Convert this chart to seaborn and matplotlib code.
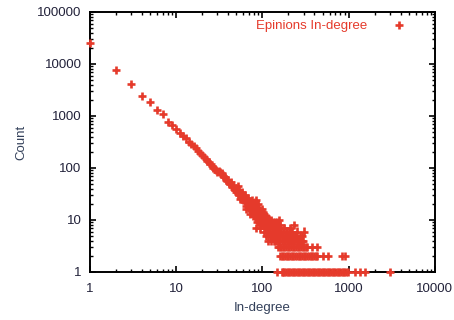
import numpy as np
import pandas as pd
import seaborn as sns
import matplotlib
matplotlib.use("Agg")
import matplotlib.pyplot as plt
from matplotlib.ticker import FuncFormatter, LogLocator

# in-degree distribution
degree_head = [1, 2, 3, 4, 5, 6, 7, 8, 9, 10, 11, 12, 13, 14, 15, 16, 17, 18, 19, 20,
               21, 22, 23, 24, 25, 26, 27, 28, 29, 30]
count_head = [25000, 7700, 4100, 2400, 1850, 1300, 1100, 770, 680, 560, 480, 420, 370, 320,
              290, 260, 240, 210, 195, 175, 160, 150, 135, 128, 118, 110, 100, 96, 90, 85]

degree_mid = [31, 32, 33, 34, 35, 36, 37, 38, 39, 40, 41, 42, 43, 44, 45, 46, 47, 48, 49, 50,
              51, 52, 53, 54, 55, 56, 57, 58, 59, 60, 61, 62, 63, 64, 65, 66, 67, 68, 69, 70,
              71, 72, 73, 74, 75, 76, 77, 78, 79, 80, 81, 82, 83, 84, 84, 85, 86, 87, 88, 89,
              90, 91, 92, 93, 94, 95, 96, 97, 98, 99, 100,
              52, 55, 58, 62, 65, 68, 72, 75, 78, 82, 86, 88, 92, 95, 98]
count_mid = [88, 84, 78, 80, 70, 66, 68, 60, 56, 58, 52, 50, 54, 45, 44, 48, 40, 38, 42, 35,
             36, 31, 38, 30, 33, 27, 32, 26, 29, 24, 28, 22, 26, 24, 19, 25, 21, 18, 23, 20,
             17, 22, 15, 19, 16, 21, 14, 18, 13, 17, 12, 19, 15, 7, 24, 14, 11, 16, 12, 10,
             15, 13, 9, 14, 11, 12, 8, 13, 10, 11, 9,
             45, 25, 34, 30, 16, 27, 13, 24, 12, 22, 9, 20, 17, 7, 16]

degree_tail = [102, 104, 106, 108, 110, 112, 114, 116, 116, 118, 120, 122, 124, 125, 126, 128,
               130, 132, 134, 135, 136, 138, 140, 142, 144, 145, 146, 148, 150, 152, 154, 155,
               156, 158, 160, 165, 170, 175, 180, 185, 190, 195, 200, 205, 210, 215, 220, 225,
               230, 240, 250, 260, 270, 280, 290, 300,
               101, 103, 105, 107, 109, 111, 113, 115, 117, 119, 121, 123, 127, 129, 131, 133,
               137, 139, 141, 143, 147, 149, 151, 153, 157, 159,
               162, 168, 172, 178, 182, 188, 192, 198, 202, 208, 212, 218, 222, 228, 235, 245,
               255, 265, 275, 285, 295, 210, 250, 230]
count_tail = [12, 8, 10, 7, 11, 9, 6, 10, 4, 8, 7, 9, 6, 4, 8, 5,
              7, 9, 6, 4, 5, 8, 6, 7, 5, 4, 9, 6, 4, 7, 5, 4,
              10, 6, 5, 6, 4, 5, 7, 4, 5, 6, 4, 5, 4, 6, 4, 5,
              4, 5, 4, 4, 5, 4, 4, 6,
              14, 6, 13, 9, 5, 12, 7, 11, 6, 10, 5, 8, 10, 6, 5, 8,
              7, 4, 9, 5, 7, 5, 8, 6, 4, 7,
              8, 5, 6, 4, 5, 6, 4, 5, 6, 4, 5, 4, 6, 5, 4, 5,
              4, 4, 4, 5, 4, 7, 6, 8]

degree_three = [151, 158, 165, 172, 180, 188, 196, 205, 214, 224, 234, 245, 256, 268, 280,
                293, 306, 320, 330, 375, 425]
degree_two = [160, 167, 175, 183, 191, 200, 209, 219, 229, 240, 251, 263, 275, 288, 301, 315,
              330, 345, 361, 378, 395, 413, 432, 505, 575, 830, 910]
degree_one = [148, 167, 173, 180, 188, 196, 205, 214, 224, 234, 245, 256, 268, 280, 293, 306,
              320, 335, 350, 366, 383, 400, 418, 437, 457, 478, 500, 523, 547, 572, 598, 625,
              654, 684, 715, 748, 782, 818, 855, 894, 935, 980, 1180, 1350, 1540, 3000]

red = "#e53a2b"
ink = "#22223a"

df = pd.DataFrame({
    "degree": degree_head + degree_mid + degree_tail + degree_three + degree_two + degree_one,
    "count": count_head + count_mid + count_tail
             + [3] * len(degree_three) + [2] * len(degree_two) + [1] * len(degree_one),
})
df["series"] = "Epinions In-degree"

sns.set_theme(style="ticks")
plt.rcParams["font.family"] = ["Liberation Sans", "DejaVu Sans"]

fig = plt.figure(figsize=(4.54, 3.2), dpi=100)
ax = fig.add_axes([0.198, 0.15, 0.76, 0.8125])

sns.scatterplot(data=df, x="degree", y="count", hue="series", palette=[red],
                marker="+", s=34, linewidth=1.9, ax=ax, clip_on=False, zorder=3)

ax.set_xscale("log")
ax.set_yscale("log")
ax.set_xlim(1, 10000)
ax.set_ylim(1, 100000)

fmt = FuncFormatter(lambda v, _: f"{int(round(v))}")
ax.xaxis.set_major_formatter(fmt)
ax.yaxis.set_major_formatter(fmt)
ax.xaxis.set_minor_locator(LogLocator(base=10, subs=np.arange(2, 10)))
ax.yaxis.set_minor_locator(LogLocator(base=10, subs=np.arange(2, 10)))
ax.xaxis.set_minor_formatter(FuncFormatter(lambda v, _: ""))
ax.yaxis.set_minor_formatter(FuncFormatter(lambda v, _: ""))

for side in ["top", "right", "bottom", "left"]:
    ax.spines[side].set_visible(True)
    ax.spines[side].set_linewidth(1.4)
    ax.spines[side].set_color("black")

ax.tick_params(which="both", direction="in", top=True, right=True, color="black",
               labelcolor=ink, labelsize=9.5)
ax.tick_params(which="major", length=4, width=1.2)
ax.tick_params(which="minor", length=2.5, width=1.0)
ax.tick_params(axis="x", pad=8)
ax.tick_params(axis="y", pad=6)

ax.set_xlabel("In-degree", fontsize=9.5, color="#33405a", labelpad=5)
ax.set_ylabel("Count", fontsize=9.5, color="#33405a", labelpad=7)

ax.legend(loc="upper right", frameon=False, markerfirst=False, fontsize=9.5,
          labelcolor=red, handletextpad=1.4, borderaxespad=0.2,
          bbox_to_anchor=(0.958, 1.0))

fig.savefig("out.png", dpi=100)
